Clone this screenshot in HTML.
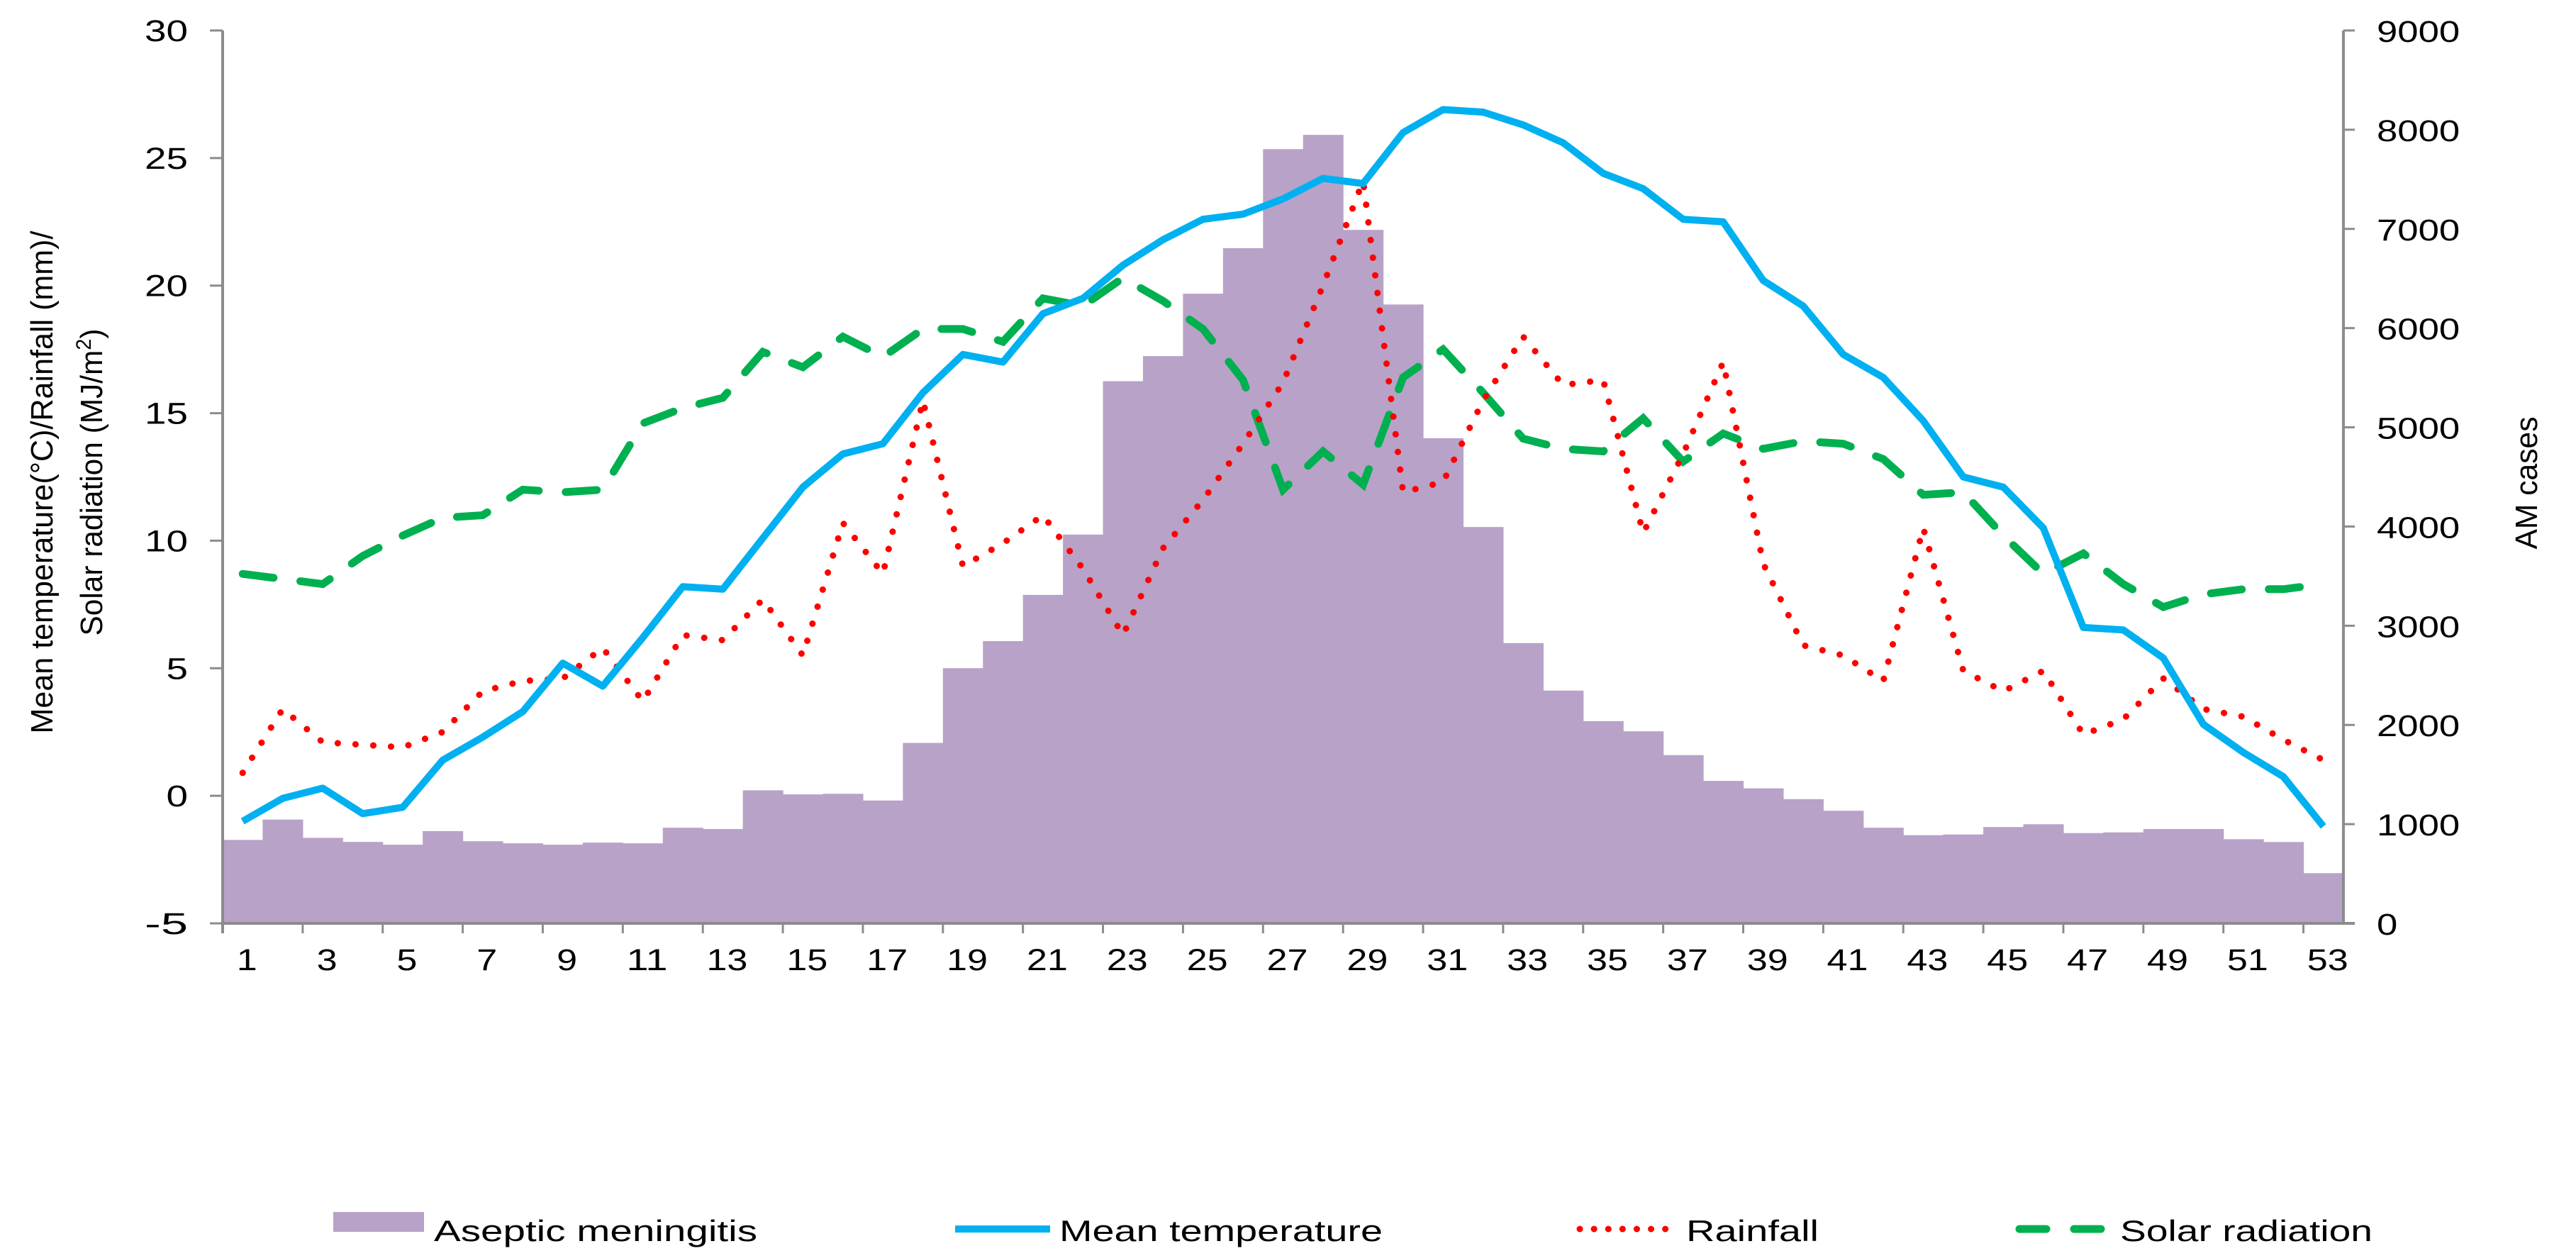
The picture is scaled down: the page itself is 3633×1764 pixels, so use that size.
<!DOCTYPE html>
<html><head><meta charset="utf-8"><style>
html,body{margin:0;padding:0;background:#fff;}
svg{display:block;}
text{font-family:"Liberation Sans",Arial,sans-serif;fill:#000;}
</style></head><body>
<svg id="chart" width="3633" height="1764" viewBox="0 0 3633 1764" xmlns="http://www.w3.org/2000/svg">
<g id="bars"></g>
<g id="lines"></g>
<g id="axes"></g>
<text transform="translate(74,680) rotate(-90)" text-anchor="middle" font-size="44" textLength="709" lengthAdjust="spacingAndGlyphs">Mean temperature(°C)/Rainfall (mm)/</text>
<text transform="translate(144,680) rotate(-90)" text-anchor="middle" font-size="44" textLength="433" lengthAdjust="spacingAndGlyphs">Solar radiation (MJ/m<tspan font-size="30" dy="-16">2</tspan><tspan dy="16">)</tspan></text>
<text transform="translate(3578,681) rotate(-90)" text-anchor="middle" font-size="44" textLength="187" lengthAdjust="spacingAndGlyphs">AM cases</text>
<g>
  <rect x="470" y="1709" width="128" height="28" fill="#b8a2c8"/>
  <text x="612" y="1750" font-size="42" textLength="456" lengthAdjust="spacingAndGlyphs">Aseptic meningitis</text>
  <line x1="1347" y1="1733" x2="1481" y2="1733" stroke="#00b0f0" stroke-width="10"/>
  <text x="1494" y="1750" font-size="42" textLength="456" lengthAdjust="spacingAndGlyphs">Mean temperature</text>
  <line x1="2228" y1="1733" x2="2350" y2="1733" stroke="#ff0000" stroke-width="9" stroke-linecap="round" stroke-dasharray="0.1 20"/>
  <text x="2378" y="1750" font-size="42" textLength="187" lengthAdjust="spacingAndGlyphs">Rainfall</text>
  <line x1="2848" y1="1733" x2="2963" y2="1733" stroke="#00b050" stroke-width="11" stroke-linecap="round" stroke-dasharray="38 39"/>
  <text x="2990" y="1750" font-size="42" textLength="356" lengthAdjust="spacingAndGlyphs">Solar radiation</text>
</g>
</svg>
<script>
const weeks = Array.from({length:53},(_,i)=>i+1);
const cases = [841,1046,862,821,793,930,828,807,793,814,807,964,951,1341,1300,1306,1238,1819,2572,2845,3311,3919,5465,5718,6347,6806,7804,7948,6990,6238,4890,3995,2825,2346,2038,1936,1696,1436,1361,1252,1135,964,889,896,971,999,910,917,951,951,848,820,506];
const temperature = [-1.0,-0.1,0.3,-0.7,-0.45,1.4,2.3,3.3,5.2,4.3,6.2,8.2,8.1,10.1,12.1,13.4,13.8,15.8,17.3,17.0,18.9,19.5,20.8,21.8,22.6,22.8,23.4,24.2,24.0,26.0,26.9,26.8,26.3,25.6,24.4,23.8,22.6,22.5,20.2,19.2,17.3,16.4,14.7,12.5,12.1,10.5,6.6,6.5,5.4,2.8,1.7,0.75,-1.2];
const rainfall = [0.9,3.4,2.1,2.0,1.9,2.5,4.1,4.5,4.6,5.8,3.7,6.3,6.1,7.7,5.5,10.7,8.7,15.5,9.0,9.9,11.0,8.9,6.3,9.7,11.6,13.8,16.2,20.0,24.1,11.9,12.3,15.5,18.0,16.1,16.3,10.3,13.4,17.0,9.1,5.9,5.5,4.5,10.5,4.9,4.1,4.9,2.4,3.0,4.6,3.4,3.1,2.2,1.4];
const solar = [8.7,8.5,8.3,9.4,10.2,10.9,11.0,12.0,11.9,12.0,14.6,15.2,15.6,17.4,16.8,18.0,17.2,18.3,18.3,17.8,19.5,19.2,20.3,19.4,18.3,16.3,12.0,13.5,12.2,16.4,17.5,15.8,14.0,13.6,13.5,14.8,13.1,14.2,13.6,13.9,13.8,13.2,11.8,11.9,10.2,8.7,9.5,8.3,7.4,7.9,8.1,8.1,8.3];
const leftTicks = [-5,0,5,10,15,20,25,30];
const rightTicks = [0,1000,2000,3000,4000,5000,6000,7000,8000,9000];

const NS='http://www.w3.org/2000/svg';
const X0=314, X1=3305, Y0=1302, Y1=43;
const W=(X1-X0)/weeks.length;
function xBand(i){return X0+i*W;}
function xc(i){return X0+(i+0.5)*W;}
function yL(v){return Y0-(v-leftTicks[0])*(Y0-Y1)/(leftTicks[leftTicks.length-1]-leftTicks[0]);}
function yR(v){return Y0-(v-rightTicks[0])*(Y0-Y1)/(rightTicks[rightTicks.length-1]-rightTicks[0]);}
function mk(tag,attrs,parent){const e=document.createElementNS(NS,tag);for(const k in attrs)e.setAttribute(k,attrs[k]);parent.appendChild(e);return e;}

const bars=document.getElementById('bars');
cases.forEach((c,i)=>{
  const r=mk('rect',{x:xBand(i),y:yR(c),width:W+0.6,height:Y0-yR(c),fill:'#b8a2c8'},bars);
  
  
});

const lines=document.getElementById('lines');
function series(vals,name,attrs){
  const d=vals.map((v,i)=>(i?'L':'M')+xc(i).toFixed(1)+','+yL(v).toFixed(1)).join(' ');
  const p=mk('path',Object.assign({d:d,fill:'none'},attrs),lines);
  
  
}
series(solar,'solar-radiation-line',{stroke:'#00b050','stroke-width':11,'stroke-linecap':'round','stroke-dasharray':'44 38'});
series(rainfall,'rainfall-line',{stroke:'#ff0000','stroke-width':9,'stroke-linecap':'round','stroke-dasharray':'0.1 25'});
series(temperature,'mean-temperature-line',{stroke:'#00b0f0','stroke-width':10,'stroke-linejoin':'round'});

const axes=document.getElementById('axes');
let a=mk('line',{x1:X0,y1:Y1,x2:X0,y2:Y0+14,stroke:'#8c8c8c','stroke-width':4},axes);


a=mk('line',{x1:X1,y1:Y1,x2:X1,y2:Y0,stroke:'#8c8c8c','stroke-width':4},axes);


a=mk('line',{x1:X0,y1:Y0,x2:X1+16,y2:Y0,stroke:'#8c8c8c','stroke-width':4},axes);



leftTicks.forEach(v=>{
  const y=yL(v);
  const t=mk('line',{x1:X0-18,y1:y,x2:X0,y2:y,stroke:'#8c8c8c','stroke-width':3},axes);
  
  
  const s=String(v);
  const l=mk('text',{x:265,y:y+15,'text-anchor':'end','font-size':43,textLength:s.length*30.5,lengthAdjust:'spacingAndGlyphs'},axes);
  l.textContent=s;
  
  
});
rightTicks.forEach(v=>{
  const y=yR(v);
  const t=mk('line',{x1:X1,y1:y,x2:X1+16,y2:y,stroke:'#8c8c8c','stroke-width':3},axes);
  
  
  const s=String(v);
  const l=mk('text',{x:3352,y:y+16,'font-size':43,textLength:s.length*29.3,lengthAdjust:'spacingAndGlyphs'},axes);
  l.textContent=s;
  
  
});
for(let b=2;b<weeks.length;b+=2){
  const x=xBand(b);
  const t=mk('line',{x1:x,y1:Y0,x2:x,y2:Y0+14,stroke:'#8c8c8c','stroke-width':3},axes);
  
  
}
weeks.forEach((w,i)=>{
  if(w%2===0)return;
  const s=String(w);
  const l=mk('text',{x:xc(i)+6,y:1368,'text-anchor':'middle','font-size':43,textLength:s.length*29,lengthAdjust:'spacingAndGlyphs'},axes);
  l.textContent=s;
  
  
});
</script>
</body></html>
